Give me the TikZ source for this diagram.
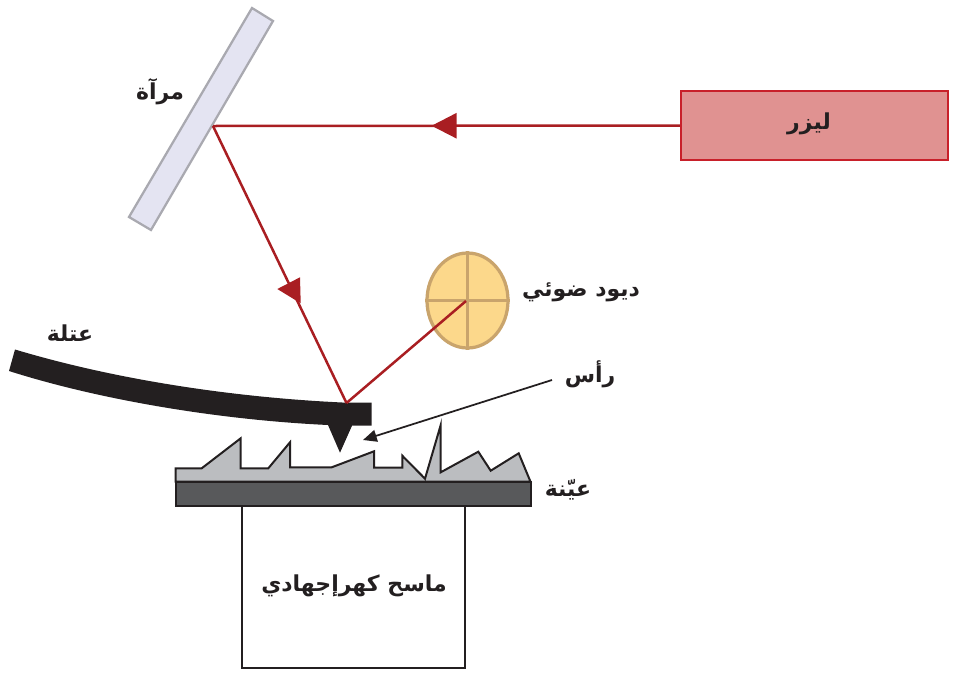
\documentclass[tikz,border=0pt]{standalone}
\usepackage{fontspec}
\usetikzlibrary{arrows.meta,decorations.markings,shapes.geometric}
\newfontfamily\arabicfont[Script=Arabic]{DejaVu Sans}
\TeXXeTstate=1

\definecolor{beamred}{HTML}{A91E22}
\definecolor{laserfill}{HTML}{E09291}
\definecolor{laserline}{HTML}{C8202A}
\definecolor{mirrorfill}{HTML}{E4E4F2}
\definecolor{mirrorline}{HTML}{A9A9B0}
\definecolor{diodefill}{HTML}{FCD88B}
\definecolor{diodeline}{HTML}{C9A46C}
\definecolor{samplefill}{HTML}{BBBDC0}
\definecolor{basefill}{HTML}{58595B}
\definecolor{inkdark}{HTML}{231F20}

\tikzset{
	arlabel/.style={font=\arabicfont\bfseries\fontsize{25}{30}\selectfont,text=inkdark,inner sep=0pt},
	beam/.style={draw=beamred,line width=1mm},
	beamtip/.style={postaction={decorate,decoration={markings,
		mark=at position #1 with {\arrow{Triangle[length=10mm,width=10mm]}}}}},
	outline/.style={draw=inkdark,line width=0.8mm}
}

\begin{document}
\begin{tikzpicture}[x=0.04cm,y=-0.04cm]
	\useasboundingbox (0,0) rectangle (960,683);

	\coordinate (mirrorhit) at (213,126);
	\coordinate (leverhit) at (346.5,403);
	\coordinate (diodemid) at (466,301);
	\coordinate (tiplabel) at (552,380);
	\coordinate (tipend) at (363,440);

	% mirror
	\draw[draw=mirrorline,fill=mirrorfill,line width=0.9mm] (252,8) -- (273,21) -- (151,230) -- (129,217) -- cycle;

	% scanner
	\node[outline,fill=white,minimum width=8.92cm,minimum height=6.5cm,anchor=north west,inner sep=0pt,outer sep=0pt] (scanner) at (241.5,505.5) {};

	% sample
	\draw[outline,fill=samplefill,line join=miter] (175.7,481.7) -- (175.7,468.3) -- (201.7,468.3) -- (240.7,438.3) -- (240.7,468.3) -- (268.3,468.3) -- (290,442.3) -- (290,467.3) -- (331.7,467.3) -- (374,451.3) -- (374,467.7) -- (402.3,467.7) -- (402.3,455.7) -- (425,478.7) -- (440.7,425) -- (440.7,472.3) -- (478.3,451.7) -- (490.7,470.7) -- (518.7,453.3) -- (530.5,481.7) -- cycle;
	\draw[outline,fill=basefill] (175.7,481.7) rectangle (530.7,505.7);

	% lever
	\fill[inkdark] (15,349.5) .. controls (120,381) and (240,398) .. (346.7,402.7) -- (371.7,402.7) -- (371.7,425.7) -- (352,425.7) -- (340,452.7) -- (328,425) .. controls (220,420) and (100,400) .. (9,371) -- cycle;

	% laser
	\node[draw=laserline,fill=laserfill,line width=0.8mm,minimum width=10.68cm,minimum height=2.76cm,inner sep=0pt] (laser) at (814.5,125.5) {};

	% diode
	\node[draw=diodeline,fill=diodefill,line width=1.3mm,ellipse,minimum width=3.24cm,minimum height=3.8cm,inner sep=0pt] (diode) at (467.5,300.5) {};
	\draw[diodeline,line width=1.3mm] (diode.north) -- (diode.south);
	\draw[diodeline,line width=1.3mm] (diode.west) -- (diode.east);

	% beam
	\draw[beam,beamtip=0.532] (laser.west) -- (mirrorhit);
	\draw[beam] (mirrorhit) -- (leverhit);
	\draw[beam] (leverhit) -- (diodemid);
	\fill[beamred] (277.3,289) -- (300,277.3) -- (300.7,303.3) -- cycle;

	% pointer
	\draw[-{Triangle[length=5.5mm,width=4.8mm]},inkdark,line width=0.7mm] (tiplabel) -- (tipend);

	% labels
	\node[arlabel] (laserlabel) at (809,124) {\beginR ليزر\endR};
	\node[arlabel] (mirrorlabel) at (160,92) {\beginR مرآة\endR};
	\node[arlabel] (diodelabel) at (581,292) {\beginR ديود ضوئي\endR};
	\node[arlabel] (leverlabel) at (70,333) {\beginR عتلة\endR};
	\node[arlabel] (tipname) at (590,374) {\beginR رأس\endR};
	\node[arlabel] (samplelabel) at (568,490) {\beginR عيّنة\endR};
	\node[arlabel] (scannerlabel) at (354,586) {\beginR ماسح كهرإجهادي\endR};
\end{tikzpicture}
\end{document}
